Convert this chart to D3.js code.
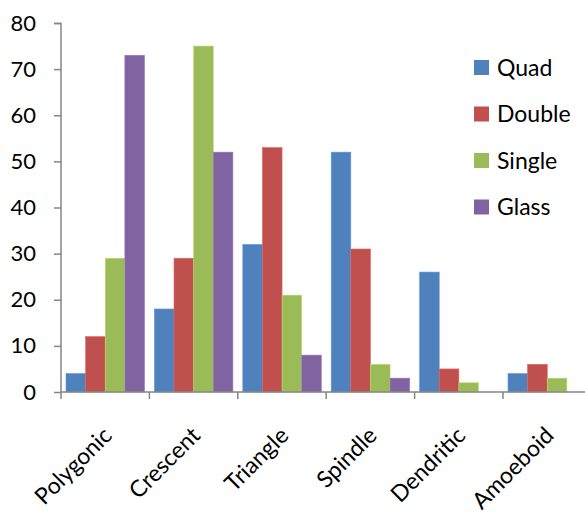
<!DOCTYPE html>
<html><head><meta charset="utf-8">
<script src="https://cdn.jsdelivr.net/npm/d3@7"></script>
<style>body{margin:0;background:#fff}svg{display:block}</style>
</head><body><svg id="c" width="585" height="516"></svg>
<script>
const categories = ["Polygonic","Crescent","Triangle","Spindle","Dendritic","Amoeboid"];
const seriesNames = ["Quad","Double","Single","Glass"];
const quad   = [4, 18, 32, 52, 26, 4];
const double = [12, 29, 53, 31, 5, 6];
const single = [29, 75, 21, 6, 2, 3];
const glass  = [73, 52, 8, 3, 0, 0];
const colors = ["#4F81BD","#C0504D","#9BBB59","#8064A2"];
const yTicks = [0,10,20,30,40,50,60,70,80];

const seriesValues = [quad, double, single, glass];
const svg = d3.select("#c");
const font = "Lato, 'Open Sans', sans-serif";
const axisColor = "#868686";

const x0 = d3.scaleBand().domain(categories).range([61, 61 + 6*88.4]).padding(0);
const x1 = d3.scaleBand().domain(seriesNames).range([5, 83.5]).padding(0);
const y = d3.scaleLinear().domain([0, 80]).range([392, 23]);

// bars
const g = svg.append("g");
categories.forEach((cat, ci) => {
  seriesNames.forEach((s, si) => {
    const v = seriesValues[si][ci];
    if (v <= 0) return;
    g.append("rect")
      .attr("x", x0(cat) + x1(s))
      .attr("y", y(v))
      .attr("width", x1.bandwidth())
      .attr("height", y(0) - y(v))
      .attr("fill", colors[si])
      .attr("stroke", d3.color(colors[si]).brighter(0.5))
      .attr("stroke-width", 0.6);
  });
});

// y axis
const yAxis = d3.axisLeft(y).tickValues(yTicks).tickSize(7).tickPadding(18);
const ya = svg.append("g").attr("transform", "translate(61,0)").call(yAxis);
ya.select(".domain").attr("stroke", axisColor).attr("stroke-width", 1.5).attr("d", "M-7,23.5H0V392");
ya.selectAll(".tick line").attr("stroke", axisColor).attr("stroke-width", 1.5);
ya.selectAll(".tick text").attr("font-family", font).attr("font-size", 22).attr("fill", "#000");

// x axis
const xa = svg.append("g").attr("transform", "translate(0,392)");
xa.append("line").attr("x1", 61).attr("x2", 585).attr("y1", 0).attr("y2", 0)
  .attr("stroke", axisColor).attr("stroke-width", 1.5);
const bounds = categories.map(c => x0(c)).concat([x0.range()[1]]);
bounds.forEach(b => {
  xa.append("line").attr("x1", b).attr("x2", b).attr("y1", 0).attr("y2", 7)
    .attr("stroke", axisColor).attr("stroke-width", 1.5);
});
categories.forEach(c => {
  const cx = x0(c) + x0.bandwidth()/2;
  xa.append("text")
    .attr("transform", `translate(${cx + 8},${45}) rotate(-45)`)
    .attr("text-anchor", "end")
    .attr("font-family", font).attr("font-size", 23).attr("fill", "#000")
    .text(c);
});

// legend
const lg = svg.append("g");
seriesNames.forEach((s, i) => {
  const yy = 60 + i*46.5;
  lg.append("rect").attr("x", 474).attr("y", yy).attr("width", 15).attr("height", 15).attr("fill", colors[i]);
  lg.append("text").attr("x", 497).attr("y", yy + 7.5).attr("dy", "0.35em")
    .attr("font-family", font).attr("font-size", 23).attr("fill", "#000").text(s);
});
</script></body></html>
